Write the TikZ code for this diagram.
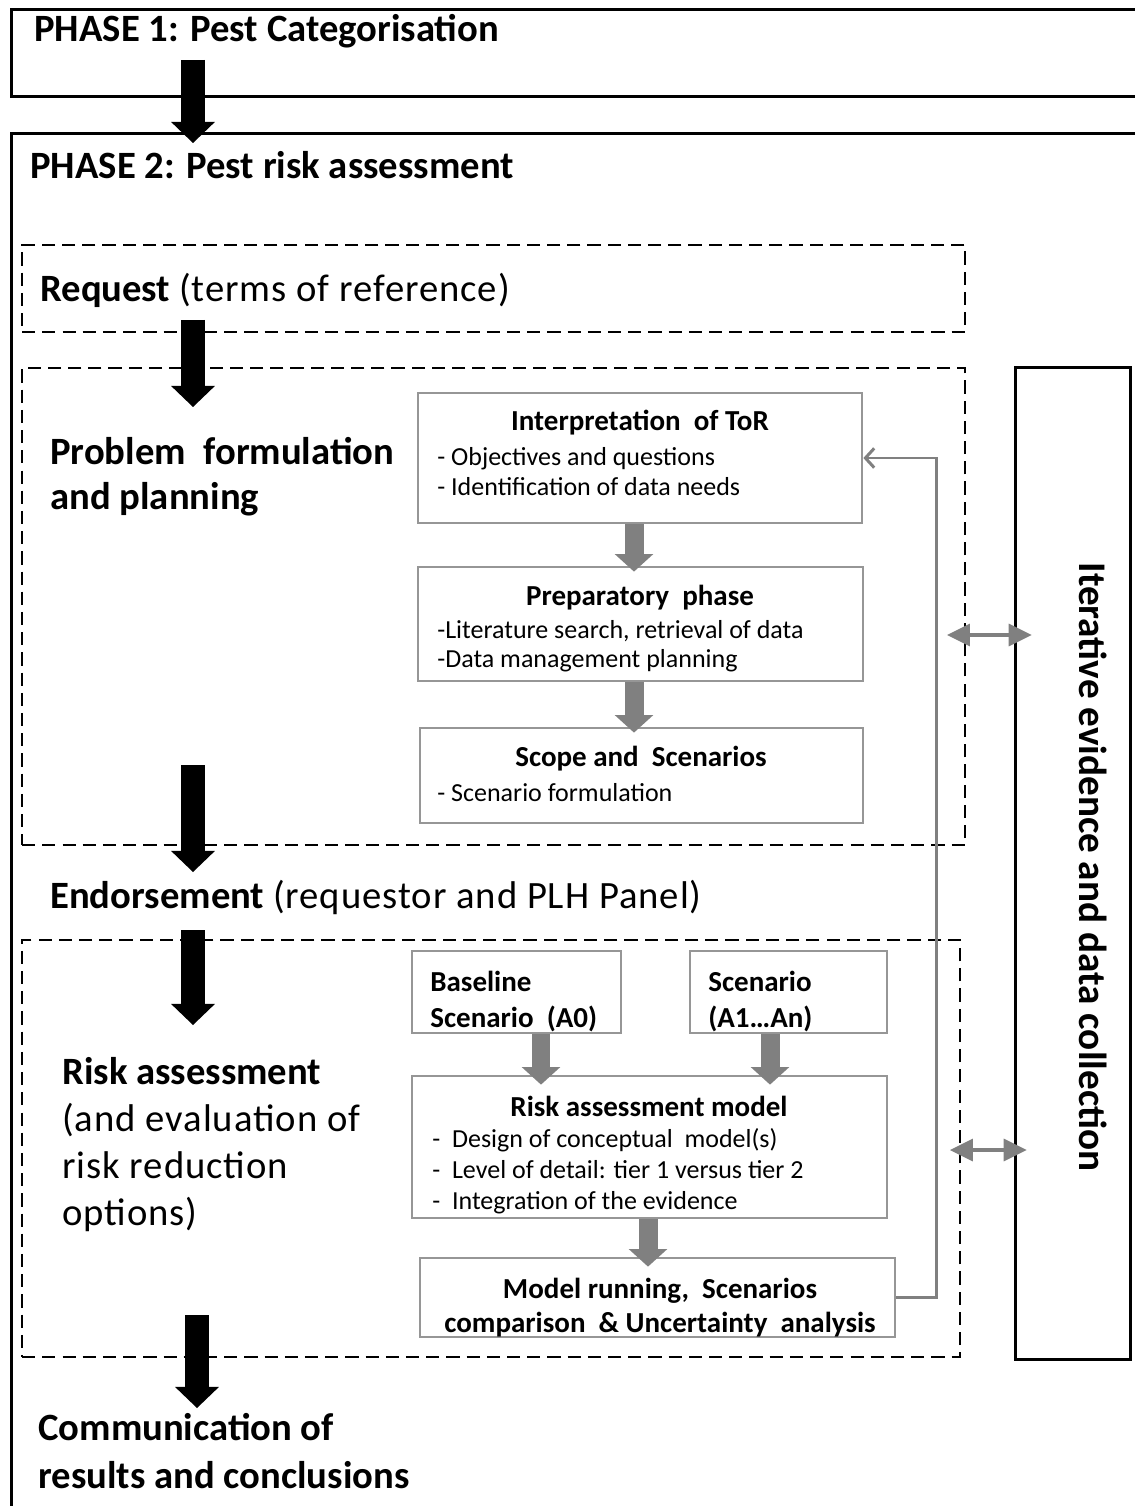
\documentclass[tikz,border=0pt]{standalone}
\usepackage{fontspec}
\setmainfont{Carlito}
\usetikzlibrary{arrows.meta,calc}

\definecolor{boxgrey}{RGB}{150,150,150}
\definecolor{arrgrey}{RGB}{128,128,128}
\newcommand{\loose}{\addfontfeature{LetterSpace=2.5}}

\begin{document}
\begin{tikzpicture}[
    x=0.02cm, y=-0.02cm,
    phase/.style={draw, line width=1.7pt, anchor=north west, inner sep=0pt},
    dbox/.style={draw, dashed, dash pattern=on 7.5pt off 4pt, line width=1.5pt, inner sep=0pt},
    gbox/.style={draw=boxgrey, line width=1.6pt, inner sep=0pt},
    ibox/.style={draw, line width=1.7pt, inner sep=0pt},
    big/.style={anchor=west, inner sep=0pt, align=left, font=\fontsize{22}{25.5}\selectfont},
    ttl/.style={inner sep=0pt, font=\bfseries\fontsize{16.5}{20}\selectfont},
    bul/.style={anchor=west, inner sep=0pt, align=left, font=\fontsize{14.8}{16.8}\selectfont},
    blk/.style={line width=13.6pt, -{Triangle[length=12pt, width=25pt, line width=0pt]}},
    gry/.style={arrgrey, line width=10.8pt, -{Triangle[length=10pt, width=22pt, line width=0pt]}},
    dbl/.style={arrgrey, line width=2.8pt, {Triangle[length=13pt, width=13pt, line width=0pt]}-{Triangle[length=13pt, width=13pt, line width=0pt]}},
    fb/.style={arrgrey, line width=1.7pt, -{Straight Barb[length=5pt, width=11pt]}}
]
\useasboundingbox (0,0) rectangle (1134,1506);

% phase frames
\node[phase, minimum width=23cm, minimum height=1.74cm] (ph1) at (10,8) {};
\node[phase, minimum width=23cm, minimum height=28cm] (ph2) at (10,132) {};

% dashed stages
\node[dbox, minimum width=18.86cm, minimum height=1.74cm] (req) at (493.5,288.5) {};
\node[dbox, minimum width=18.86cm, minimum height=9.54cm] (prob) at (493.5,606.5) {};
\node[dbox, minimum width=18.76cm, minimum height=8.34cm] (risk) at (491,1148.5) {};

% grey boxes
\node[gbox, minimum width=8.88cm, minimum height=2.6cm] (tor) at (640,458) {};
\node[gbox, minimum width=8.9cm, minimum height=2.28cm] (prep) at (640.5,624) {};
\node[gbox, minimum width=8.86cm, minimum height=1.9cm] (scope) at (641.5,775.5) {};
\node[gbox, minimum width=4.18cm, minimum height=1.64cm] (base) at (516.5,992) {};
\node[gbox, minimum width=3.94cm, minimum height=1.64cm] (scen) at (788.5,992) {};
\node[gbox, minimum width=9.5cm, minimum height=2.84cm] (ram) at (649.5,1147) {};
\node[gbox, minimum width=9.5cm, minimum height=1.58cm] (run) at (657.5,1297.5) {};
\node[ibox, minimum width=2.3cm, minimum height=19.86cm] (iter) at (1072.5,863.5) {};

% left column texts
\node[big, font=\bfseries\fontsize{22}{25.5}\selectfont] (ph1t) at (34,31) {PHASE 1: Pest Categorisation};
\node[big, font=\bfseries\fontsize{22}{25.5}\selectfont] (ph2t) at (30,165) {PHASE 2: Pest risk assessment};
\node[big] (reqt) at (40,290) {\textbf{Request} {\loose(terms of reference)}};
\node[big, font=\bfseries\fontsize{22}{25.5}\selectfont] (probt) at (50,477) {Problem\ \ formulation\\and planning};
\node[big] (endt) at (50,897) {\textbf{Endorsement} {\loose(requestor and PLH Panel)}};
\node[big, font=\fontsize{22}{26.6}\selectfont] (riskt) at (62,1144.5) {\textbf{Risk assessment}\\{\loose(and evaluation of}\\{\loose risk reduction}\\{\loose options)}};
\node[big, font=\bfseries\fontsize{22}{27.2}\selectfont] (comt) at (38,1451) {Communication of\\results and conclusions};
\node[inner sep=0pt, rotate=-90, font=\bfseries\fontsize{22.3}{26}\selectfont] (itert) at (1093,867) {Iterative evidence and data collection};

% box texts
\node[ttl] (tort) at (640,423) {Interpretation\ \ of ToR};
\node[bul] (torb) at (437,471.5) {- Objectives and questions\\- Identification of data needs};
\node[ttl] (prept) at (640,598) {Preparatory\ \ phase};
\node[bul] (prepb) at (437,646) {-Literature search, retrieval of data\\-Data management planning};
\node[ttl] (scopet) at (641,759) {Scope and\ \ Scenarios};
\node[bul] (scopeb) at (437,793) {- Scenario formulation};
\node[ttl, anchor=west, align=left, font=\bfseries\fontsize{16.5}{21}\selectfont] (baset) at (430,1001.5) {Baseline\\Scenario\ \ (A0)};
\node[ttl, anchor=west, align=left, font=\bfseries\fontsize{16.5}{21}\selectfont] (scent) at (708,1001.5) {Scenario\\(A1…An)};
\node[ttl] (ramt) at (649,1106) {Risk assessment model};
\node[bul, font=\fontsize{14.8}{17.6}\selectfont] (ramb) at (432,1171) {-\ \ Design of conceptual\ \ model(s)\\-\ \ Level of detail: tier 1 versus tier 2\\-\ \ Integration of the evidence};
\node[ttl, align=center, font=\bfseries\fontsize{16.5}{19.8}\selectfont] (runt) at (660,1307.5) {Model running,\ \ Scenarios\\comparison\ \ \& Uncertainty\ \ analysis};

% feedback loop
\draw[fb] (run.east) -- ++(40,0) |- (tor.east);

% grey arrows
\draw[gry] ([xshift=-0.12cm]tor.south) -- ([xshift=-0.12cm, yshift=-0.12cm]tor.south |- prep.north);
\draw[gry] ([xshift=-0.13cm]prep.south) -- ([xshift=-0.13cm, yshift=-0.12cm]prep.south |- scope.north);
\draw[gry] ([xshift=0.49cm]base.south) -- ([xshift=0.49cm, yshift=-0.2cm]base.south |- ram.north);
\draw[gry] ([xshift=-0.37cm]scen.south) -- ([xshift=-0.37cm, yshift=-0.2cm]scen.south |- ram.north);
\draw[gry] ([xshift=-0.03cm]ram.south) -- ([xshift=-0.03cm, yshift=-0.2cm]ram.south |- run.north);

% links to evidence collection
\coordinate (d1) at (947,635);
\coordinate (d2) at (950,1150);
\draw[dbl] (d1) -- ([xshift=0.36cm]d1 -| iter.west);
\draw[dbl] (d2) -- ([xshift=0.26cm]d2 -| iter.west);

% main flow
\coordinate (a1s) at (193,60);   \coordinate (a1e) at (193,143);
\coordinate (a2s) at (193,320);  \coordinate (a2e) at (193,407);
\coordinate (a3s) at (193,765);  \coordinate (a3e) at (193,872);
\coordinate (a4s) at (193,930);  \coordinate (a4e) at (193,1025);
\coordinate (a5s) at (197,1315); \coordinate (a5e) at (197,1408);
\draw[blk] (a1s) -- (a1e);
\draw[blk] (a2s) -- (a2e);
\draw[blk] (a3s) -- (a3e);
\draw[blk] (a4s) -- (a4e);
\draw[blk] (a5s) -- (a5e);
\end{tikzpicture}
\end{document}
